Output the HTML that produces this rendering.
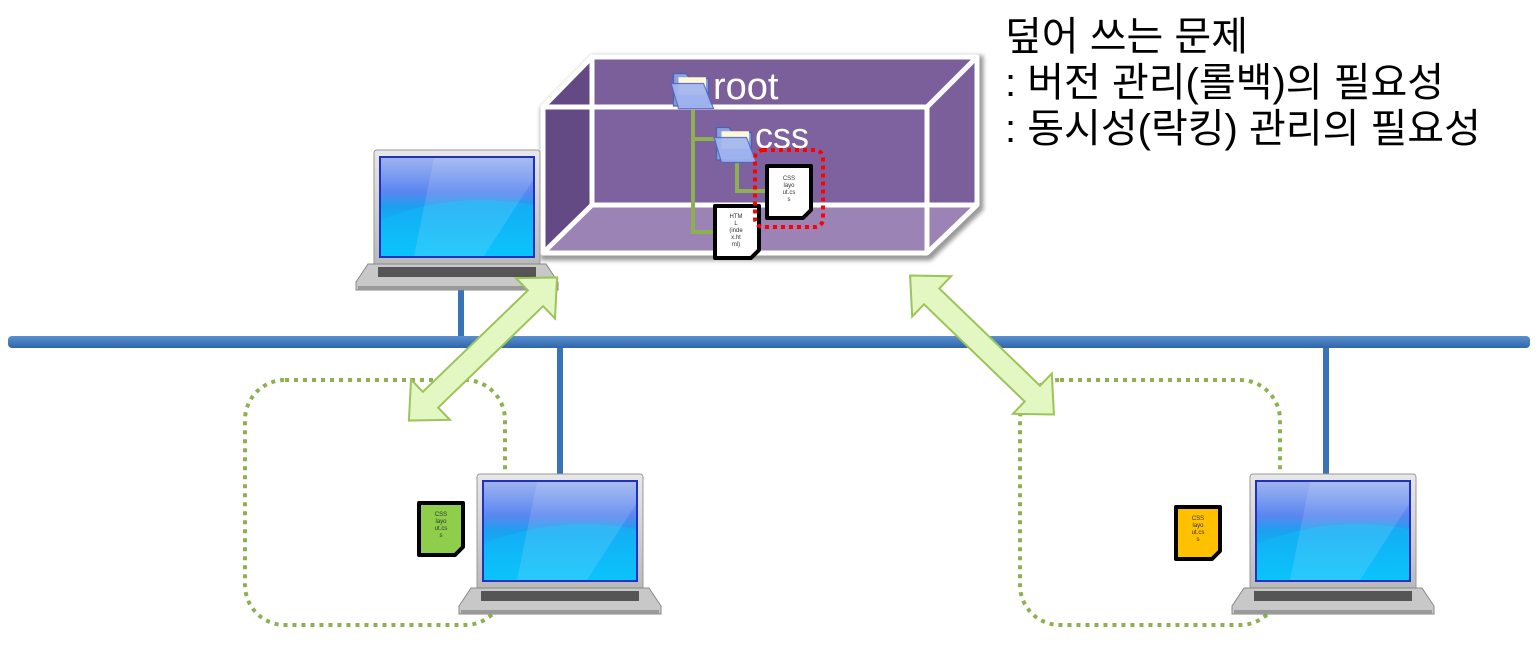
<!DOCTYPE html>
<html><head><meta charset="utf-8"><style>
html,body{margin:0;padding:0;background:#fff;}
svg{display:block;}
text{font-family:"Liberation Sans","Noto Sans CJK KR",sans-serif;}
</style></head><body>
<svg width="1539" height="646" viewBox="0 0 1539 646" xmlns="http://www.w3.org/2000/svg">
<defs>
<linearGradient id="scr" x1="0" y1="0" x2="0" y2="1">
<stop offset="0" stop-color="#9fb4f0"/><stop offset="0.35" stop-color="#5a86f0"/><stop offset="0.5" stop-color="#1aa0f0"/><stop offset="1" stop-color="#00d8ff"/></linearGradient>
<linearGradient id="lid" x1="0" y1="0" x2="0" y2="1"><stop offset="0" stop-color="#e8e8e8"/><stop offset="1" stop-color="#b8b8b8"/></linearGradient>
<linearGradient id="bus" x1="0" y1="0" x2="0" y2="1"><stop offset="0" stop-color="#5a90d0"/><stop offset="1" stop-color="#2f66aa"/></linearGradient>
<filter id="blur"><feGaussianBlur stdDeviation="2"/></filter>
<g id="lap">
<rect x="0" y="0" width="166" height="118" rx="3" fill="url(#lid)" stroke="#999" stroke-width="1"/>
<rect x="6" y="7" width="154" height="100" fill="url(#scr)" stroke="#2030c0" stroke-width="2"/>
<path d="M7 70 Q80 40 159 55 L159 106 L7 106 Z" fill="#10b8f8" opacity="0.6"/>
<path d="M60 8 L159 8 L159 30 L110 106 L40 106 Z" fill="#fff" opacity="0.12"/>
<path d="M-6 114 L172 114 L184 132 L184 140 L-18 140 L-18 132 Z" fill="#c8c8c8" stroke="#888" stroke-width="1"/>
<rect x="4" y="117" width="158" height="10" fill="#555"/>
<rect x="-16" y="136" width="198" height="4" fill="#999"/>
</g>
<g id="doc">
<path d="M0 0 L44 0 L44 44 L36 52 L0 52 Z" stroke="#000" stroke-width="4" stroke-linejoin="round"/>
</g>
<g id="folder">
<path d="M2 6 L12 6 L15 10 L30 10 L30 32 L2 32 Z" fill="#8aa0e0" stroke="#5060b0"/>
<rect x="6" y="9" width="22" height="14" fill="#fff8d8"/>
<path d="M0 14 L26 14 L34 34 L6 34 Z" fill="#a0b4f0" stroke="#5068c0" opacity="0.9"/>
</g>
</defs>

<!-- dotted areas (behind) -->
<rect x="245" y="380" width="260" height="245" rx="40" fill="none" stroke="#8fb050" stroke-width="4" stroke-dasharray="4,5"/>
<rect x="1020" y="380" width="260" height="245" rx="40" fill="none" stroke="#8fb050" stroke-width="4" stroke-dasharray="4,5"/>

<!-- Box shadow -->
<polygon points="543,107 592,57 977,57 977,205 927,253 543,253" fill="none" stroke="#999" stroke-width="9" filter="url(#blur)" transform="translate(2,3)"/>
<!-- Box -->
<polygon points="543,107 592,57 977,57 927,107" fill="#7a5f9a"/>
<polygon points="543,107 927,107 927,205 543,205" fill="#7e62a0"/>
<polygon points="543,107 592,57 592,205 543,253" fill="#644a85"/>
<polygon points="927,107 977,57 977,205 927,253" fill="#7a5f9a"/>
<polygon points="543,253 592,205 977,205 927,253" fill="#9b84b5"/>
<g fill="none" stroke="#fff" stroke-width="5" stroke-linejoin="round">
<polygon points="543,107 592,57 977,57 977,205 927,253 543,253"/>
<line x1="543" y1="107" x2="927" y2="107"/>
<line x1="927" y1="107" x2="977" y2="57"/>
<line x1="927" y1="107" x2="927" y2="253"/>
<polyline points="592,57 592,205 977,205"/>
<line x1="592" y1="205" x2="543" y2="253"/>
</g>
<!-- tree -->
<g stroke="#8fb050" stroke-width="4" fill="none">
<polyline points="693,110 693,232 715,232"/>
<line x1="693" y1="139" x2="715" y2="139"/>
<polyline points="737,163 737,191 766,191"/>
</g>
<use href="#folder" transform="translate(671,66) scale(1.25)"/>
<text x="713" y="99" font-size="38" fill="#fff">root</text>
<use href="#folder" transform="translate(714,120) scale(1.25)"/>
<text x="755" y="148" font-size="36" fill="#fff">css</text>
<use href="#doc" x="767" y="166" fill="#fff"/>
<text font-size="6" fill="#333" text-anchor="middle"><tspan x="789" y="180">CSS</tspan><tspan x="789" y="187">layo</tspan><tspan x="789" y="194">ut.cs</tspan><tspan x="789" y="201">s</tspan></text>
<use href="#doc" x="715" y="206" fill="#fff"/>
<text font-size="6" fill="#333" text-anchor="middle"><tspan x="736" y="218">HTM</tspan><tspan x="736" y="225">L</tspan><tspan x="736" y="232">(inde</tspan><tspan x="736" y="239">x.ht</tspan><tspan x="736" y="246">ml)</tspan></text>
<rect x="755" y="150" width="68" height="77" rx="8" fill="none" stroke="#ff0000" stroke-width="4" stroke-dasharray="4,4"/>

<!-- Text -->
<text x="1005" y="50" font-size="40" fill="#000">덮어 쓰는 문제</text>
<text x="1005" y="96" font-size="40" fill="#000">: 버전 관리(롤백)의 필요성</text>
<text x="1005" y="142" font-size="40" fill="#000">: 동시성(락킹) 관리의 필요성</text>

<!-- network -->
<rect x="458" y="286" width="6" height="56" fill="#3a74b8"/>
<rect x="557" y="342" width="6" height="134" fill="#3a74b8"/>
<rect x="1323" y="342" width="6" height="134" fill="#3a74b8"/>
<rect x="8" y="336" width="1522" height="12" rx="4" fill="url(#bus)"/>

<use href="#lap" x="374" y="150"/>
<use href="#lap" x="477" y="474"/>
<use href="#lap" x="1250" y="474"/>

<!-- arrows -->
<g fill="#e2f7c2" stroke="#9cc45a" stroke-width="2" stroke-linejoin="miter">
<polygon transform="translate(483,349) rotate(-44)" points="-103,0 -73,-28 -73,-11 73,-11 73,-28 103,0 73,28 73,11 -73,11 -73,28"/>
<polygon transform="translate(982,345) rotate(44)" points="-100,0 -70,-28 -70,-11 70,-11 70,-28 100,0 70,28 70,11 -70,11 -70,28"/>
</g>

<!-- files -->
<use href="#doc" x="419" y="503" fill="#8fce4a"/>
<text font-size="6" fill="#333" text-anchor="middle"><tspan x="441" y="516">CSS</tspan><tspan x="441" y="523">layo</tspan><tspan x="441" y="530">ut.cs</tspan><tspan x="441" y="537">s</tspan></text>
<use href="#doc" x="1176" y="507" fill="#ffc000"/>
<text font-size="6" fill="#333" text-anchor="middle"><tspan x="1198" y="520">CSS</tspan><tspan x="1198" y="527">layo</tspan><tspan x="1198" y="534">ut.cs</tspan><tspan x="1198" y="541">s</tspan></text>
</svg>
</body></html>
